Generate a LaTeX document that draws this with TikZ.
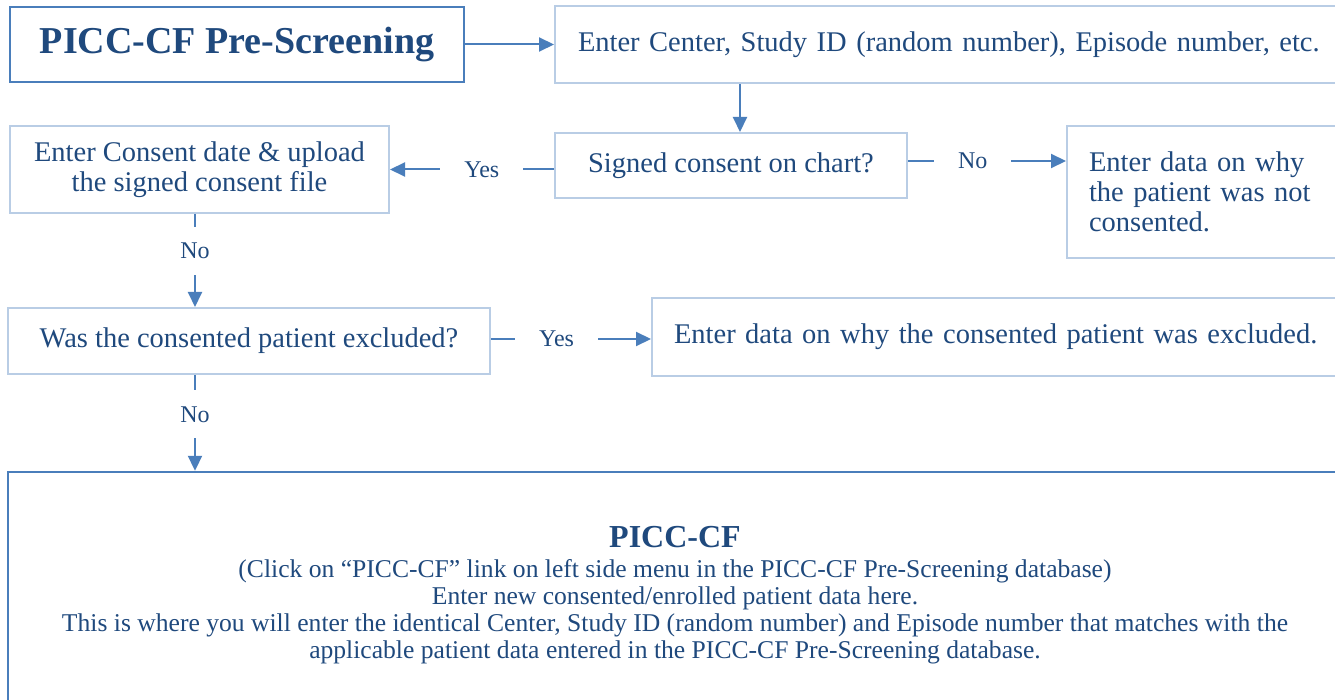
\documentclass[tikz,border=0pt]{standalone}
\usepackage{fontspec}
\setmainfont{Liberation Serif}
\usetikzlibrary{arrows.meta}
\definecolor{txt}{RGB}{31,73,125}
\definecolor{arrowc}{RGB}{74,126,187}
\definecolor{boxlight}{RGB}{185,205,229}
\tikzset{
  lbox/.style={draw=boxlight, line width=2pt, text=txt, inner sep=0pt,
    font=\fontsize{28.5}{30}\selectfont},
  dbox/.style={draw=arrowc, line width=2.4pt, text=txt, inner sep=0pt},
  arr/.style={draw=arrowc, line width=2pt, -{Triangle[length=15pt,width=14pt]}},
  lab/.style={fill=white, text=txt, inner xsep=24pt, inner ysep=16pt,
    font=\fontsize{24}{26}\selectfont},
}
\begin{document}
\begin{tikzpicture}[x=1pt,y=-1pt]
\clip (0,0) rectangle (1335,700);
\fill[white] (0,0) rectangle (1335,700);
% boxes
\node[dbox, minimum width=454, minimum height=75,
  font=\bfseries\fontsize{38}{40}\selectfont] (A) at (237,44.5) {PICC-CF Pre-Screening};
\node[lbox, anchor=west, minimum height=77, inner xsep=23pt, text width=754pt,
  align=left] (B) at (554,44.5) {Enter Center, Study ID (random number), Episode number, etc.};
\node[lbox, minimum width=352, minimum height=65] (C) at (731,165.5) {Signed consent on chart?};
\node[lbox, minimum width=379, minimum height=87, align=center] (D) at (199.5,169.5)
  {Enter Consent date \& upload\\the signed consent file};
\node[lbox, anchor=west, minimum height=132, inner xsep=22pt, text width=300pt,
  align=left] (E) at (1066,192) {Enter data on why\\the patient was not\\consented.};
\node[lbox, minimum width=482, minimum height=66] (F) at (249,341) {Was the consented patient excluded?};
\node[lbox, anchor=west, minimum height=78, inner xsep=22pt, text width=700pt,
  align=left] (G) at (651,337) {Enter data on why the consented patient was excluded.};
\node[dbox, minimum width=1334, minimum height=246, align=center,
  font=\fontsize{25.6}{27}\selectfont] (H) at (675,595)
  {{\bfseries\fontsize{32}{27}\selectfont PICC-CF}\\[3pt]
   (Click on “PICC-CF” link on left side menu in the PICC-CF Pre-Screening database)\\
   Enter new consented/enrolled patient data here.\\
   This is where you will enter the identical Center, Study ID (random number) and Episode number that matches with the\\
   applicable patient data entered in the PICC-CF Pre-Screening database.};
% helper coordinates
\coordinate (bcx) at (740,0);
\coordinate (cey) at (0,161);
\coordinate (dfx) at (195,0);
\coordinate (fgy) at (0,339);
% connectors
\draw[arr] (A.east) -- (B.west);
\draw[arr] (B.south -| bcx) -- (C.north -| bcx);
\draw[arr] (C.west |- D.east) -- node[lab, pos=0.44] {Yes} (D.east);
\draw[arr] (C.east |- cey) -- node[lab, pos=0.41] {No} (E.west |- cey);
\draw[arr] (D.south -| dfx) -- node[lab, pos=0.4] {No} (F.north -| dfx);
\draw[arr] (F.east |- fgy) -- node[lab, pos=0.41] {Yes} (G.west |- fgy);
\draw[arr] (F.south -| dfx) -- node[lab, pos=0.41] {No} (H.north -| dfx);
\end{tikzpicture}
\end{document}
